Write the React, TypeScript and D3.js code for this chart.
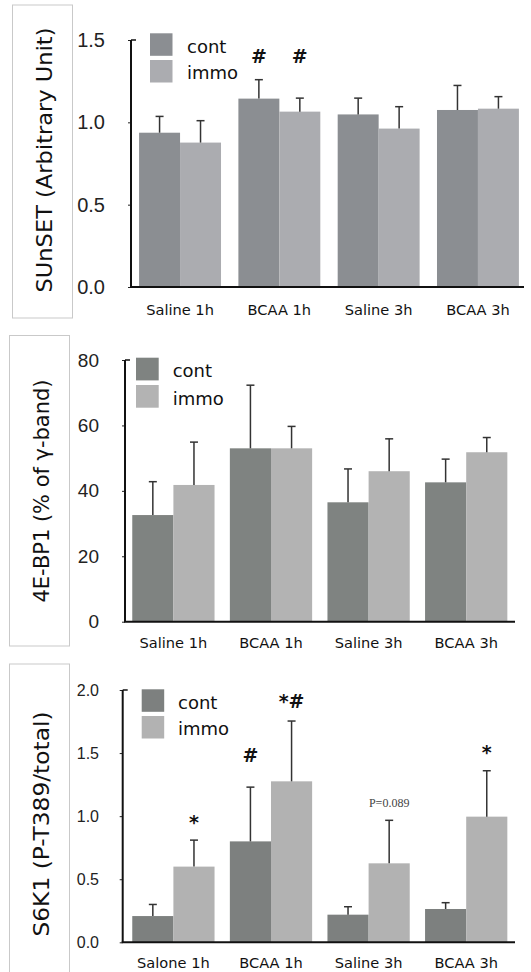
import React, { useEffect, useRef } from 'react';
import * as d3 from 'd3';

// categories
const groups = ['Saline 1h', 'BCAA 1h', 'Saline 3h', 'BCAA 3h'];
const groupsS6k1 = ['Salone 1h', 'BCAA 1h', 'Saline 3h', 'BCAA 3h'];
const seriesNames = ['cont', 'immo'];

// SUnSET (arbitrary unit)
const sunsetCont = [0.937, 1.144, 1.048, 1.075];
const sunsetContErr = [0.099, 0.115, 0.099, 0.149];
const sunsetImmo = [0.877, 1.065, 0.962, 1.083];
const sunsetImmoErr = [0.133, 0.082, 0.133, 0.073];
const sunsetTicks = [0, 0.5, 1.0, 1.5];

// 4E-BP1 (% of gamma band)
const bp1Cont = [32.6, 53.0, 36.5, 42.6];
const bp1ContErr = [10.2, 19.3, 10.2, 7.1];
const bp1Immo = [41.8, 53.0, 46.0, 51.8];
const bp1ImmoErr = [13.1, 6.7, 9.9, 4.5];
const bp1Ticks = [0, 20, 40, 60, 80];

// S6K1 (P-T389/total)
const s6kCont = [0.208, 0.8, 0.219, 0.264];
const s6kContErr = [0.092, 0.43, 0.063, 0.05];
const s6kImmo = [0.6, 1.276, 0.626, 0.996];
const s6kImmoErr = [0.21, 0.478, 0.341, 0.364];
const s6kTicks = [0, 0.5, 1.0, 1.5, 2.0];

// significance marks: [group, series, text, baseline value]
const sunsetNotes: [number, number, string, number][] = [
  [1, 0, '#', 1.358],
  [1, 1, '#', 1.358],
];
const s6kNotes: [number, number, string, number][] = [
  [0, 1, '*', 0.898],
  [1, 0, '#', 1.427],
  [1, 1, '*#', 1.855],
  [2, 1, 'P=0.089', 1.075],
  [3, 1, '*', 1.453],
];

const COMIC = '"DejaVu Sans", sans-serif';
const ARIAL = '"Liberation Sans", Arial, sans-serif';

function drawPanel(svg, cfg) {
  const g = svg.append('g');

  // label box on the left
  g.append('rect')
    .attr('x', cfg.box[0])
    .attr('y', cfg.box[1])
    .attr('width', cfg.box[2] - cfg.box[0])
    .attr('height', cfg.box[3] - cfg.box[1])
    .attr('fill', 'none')
    .attr('stroke', '#c9c9c9')
    .attr('stroke-width', 1);

  const y = d3.scaleLinear().domain([0, cfg.max]).range([cfg.y0, cfg.y1]);
  const x = d3
    .scaleBand()
    .domain(cfg.labels)
    .range(cfg.xRange)
    .paddingInner(cfg.padding)
    .paddingOuter(cfg.padding / 2);
  const xs = d3.scaleBand().domain(seriesNames).range([0, x.bandwidth()]);

  const series = [
    { name: 'cont', vals: cfg.cont, errs: cfg.contErr, color: cfg.colors[0] },
    { name: 'immo', vals: cfg.immo, errs: cfg.immoErr, color: cfg.colors[1] },
  ];

  series.forEach((s) => {
    g.append('g')
      .selectAll('rect')
      .data(s.vals)
      .enter()
      .append('rect')
      .attr('x', (d, i) => x(cfg.labels[i]) + xs(s.name))
      .attr('y', (d) => y(d))
      .attr('width', xs.bandwidth())
      .attr('height', (d) => y(0) - y(d))
      .attr('fill', s.color);

    // upward error bars
    const eb = g.append('g').attr('stroke', '#333').attr('stroke-width', 1.5);
    s.vals.forEach((v, i) => {
      const cx = x(cfg.labels[i]) + xs(s.name) + xs.bandwidth() / 2;
      const top = y(v + s.errs[i]);
      eb.append('line').attr('x1', cx).attr('x2', cx).attr('y1', y(v)).attr('y2', top);
      eb.append('line').attr('x1', cx - 4).attr('x2', cx + 4).attr('y1', top).attr('y2', top);
    });
  });

  // axes
  const axis = g
    .append('g')
    .attr('transform', `translate(${cfg.axisX},0)`)
    .call(
      d3
        .axisLeft(y)
        .tickValues(cfg.ticks)
        .tickSize(3)
        .tickPadding(cfg.axisX - cfg.tickRight - 3)
        .tickFormat(cfg.format)
    );
  axis.select('.domain').remove();
  axis.selectAll('line').attr('stroke', '#222');
  axis
    .selectAll('text')
    .attr('font-family', ARIAL)
    .attr('font-size', cfg.tickSize)
    .attr('fill', '#222');
  g.append('line')
    .attr('x1', cfg.axisX)
    .attr('x2', cfg.axisX)
    .attr('y1', y(0))
    .attr('y2', y(cfg.max))
    .attr('stroke', '#111')
    .attr('stroke-width', 2);
  g.append('line')
    .attr('x1', cfg.axisX)
    .attr('x2', cfg.axisX + 5)
    .attr('y1', y(cfg.max))
    .attr('y2', y(cfg.max))
    .attr('stroke', '#111')
    .attr('stroke-width', 1.5);
  g.append('line')
    .attr('x1', cfg.axisX - 1)
    .attr('x2', cfg.axisEnd)
    .attr('y1', y(0))
    .attr('y2', y(0))
    .attr('stroke', '#111')
    .attr('stroke-width', 2);

  // category labels
  g.append('g')
    .selectAll('text')
    .data(cfg.labels)
    .enter()
    .append('text')
    .attr('x', (d) => x(d) + x.bandwidth() / 2)
    .attr('y', cfg.labelY)
    .attr('text-anchor', 'middle')
    .attr('font-family', COMIC)
    .attr('font-size', 14.6)
    .attr('fill', '#111')
    .text((d) => d);

  // y title
  g.append('text')
    .attr('transform', `translate(${cfg.titleX},${cfg.titleY}) rotate(-90)`)
    .attr('text-anchor', 'middle')
    .attr('dominant-baseline', 'central')
    .attr('font-family', COMIC)
    .attr('font-size', 21)
    .attr('textLength', cfg.titleLen)
    .attr('lengthAdjust', 'spacingAndGlyphs')
    .attr('fill', '#111')
    .text(cfg.title);

  // legend
  const lg = cfg.legend;
  series.forEach((s, i) => {
    const top = lg.y + i * lg.gap;
    g.append('rect')
      .attr('x', lg.x)
      .attr('y', top)
      .attr('width', lg.size)
      .attr('height', lg.size)
      .attr('fill', s.color);
    g.append('text')
      .attr('x', lg.tx)
      .attr('y', top + lg.size * 0.86)
      .attr('font-family', COMIC)
      .attr('font-size', 18)
      .attr('fill', '#111')
      .text(s.name);
  });

  // significance marks
  cfg.notes.forEach(([gi, si, text, v]) => {
    const cx = x(cfg.labels[gi]) + xs(seriesNames[si]) + xs.bandwidth() / 2;
    const isP = text.startsWith('P');
    g.append('text')
      .attr('x', cx)
      .attr('y', y(v))
      .attr('text-anchor', 'middle')
      .attr('font-family', isP ? '"Liberation Serif", serif' : COMIC)
      .attr('font-size', isP ? 12 : 19)
      .attr('font-weight', isP ? 'normal' : 'bold')
      .attr('fill', isP ? '#444' : '#111')
      .text(text);
  });
}

export default function App() {
  const ref = useRef(null);

  useEffect(() => {
    const svg = d3.select(ref.current);
    svg.selectAll('*').remove();

    drawPanel(svg, {
      box: [12.5, 5, 72.5, 318],
      y0: 287,
      y1: 40,
      max: 1.5,
      ticks: sunsetTicks,
      format: d3.format('.1f'),
      tickSize: 20,
      tickRight: 105,
      axisX: 131,
      axisEnd: 524,
      xRange: [130.4, 527.6],
      padding: 0.175,
      labels: groups,
      labelY: 315,
      cont: sunsetCont,
      contErr: sunsetContErr,
      immo: sunsetImmo,
      immoErr: sunsetImmoErr,
      colors: ['#8b8e92', '#abacb0'],
      title: 'SUnSET (Arbitrary Unit)',
      titleX: 45,
      titleY: 160,
      titleLen: 265,
      legend: { x: 150, y: 33.3, size: 22.5, gap: 26.7, tx: 187 },
      notes: sunsetNotes,
    });

    drawPanel(svg, {
      box: [9.5, 335.5, 69.5, 646],
      y0: 621.7,
      y1: 360,
      max: 80,
      ticks: bp1Ticks,
      format: d3.format('d'),
      tickSize: 19,
      tickRight: 99,
      axisX: 125,
      axisEnd: 515,
      xRange: [124.6, 515],
      padding: 0.157,
      labels: groups,
      labelY: 648,
      cont: bp1Cont,
      contErr: bp1ContErr,
      immo: bp1Immo,
      immoErr: bp1ImmoErr,
      colors: ['#7f8381', '#b3b3b3'],
      title: '4E-BP1 (% of γ-band)',
      titleX: 41.7,
      titleY: 491,
      titleLen: 223,
      legend: { x: 136, y: 357.7, size: 22.7, gap: 27.3, tx: 172.7 },
      notes: [],
    });

    drawPanel(svg, {
      box: [9.5, 664, 69.5, 980],
      y0: 942.3,
      y1: 690,
      max: 2.0,
      ticks: s6kTicks,
      format: d3.format('.1f'),
      tickSize: 16,
      tickRight: 99,
      axisX: 122.7,
      axisEnd: 515,
      xRange: [124.6, 515],
      padding: 0.157,
      labels: groupsS6k1,
      labelY: 968,
      cont: s6kCont,
      contErr: s6kContErr,
      immo: s6kImmo,
      immoErr: s6kImmoErr,
      colors: ['#7d807f', '#b2b2b2'],
      title: 'S6K1 (P-T389/total)',
      titleX: 41.7,
      titleY: 824,
      titleLen: 225,
      legend: { x: 141.7, y: 689.3, size: 22.5, gap: 26.7, tx: 178 },
      notes: s6kNotes,
    });
  }, []);

  return (
    <div style={{ position: 'absolute', left: 0, top: 0 }}>
      <svg ref={ref} width={531} height={972} style={{ display: 'block', background: '#fff' }} />
    </div>
  );
}
